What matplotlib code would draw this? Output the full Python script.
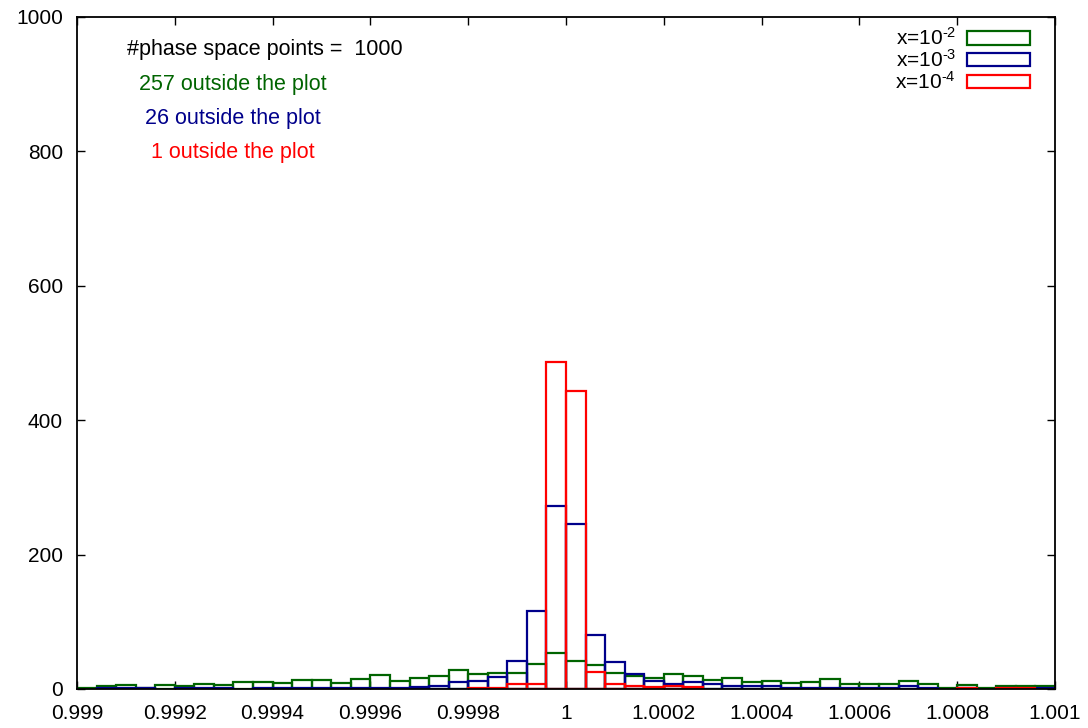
import numpy as np
import matplotlib
matplotlib.use("Agg")
import matplotlib.pyplot as plt
from matplotlib.patches import Patch

# ---- data ----
x_min, x_max, n_bins = 0.999, 1.001, 50
green_counts = [2, 4, 6, 2, 6, 5, 8, 6, 11, 11,
                9, 13, 13, 9, 15, 21, 12, 17, 20, 29,
                23, 24, 24, 37, 53, 41, 35, 24, 19, 16,
                23, 19, 13, 16, 10, 12, 9, 10, 15, 7,
                7, 8, 12, 8, 1, 6, 1, 4, 5, 5]
blue_counts = [0, 1, 2, 1, 0, 1, 2, 2, 0, 1,
               1, 2, 1, 1, 1, 2, 1, 3, 5, 10,
               12, 18, 42, 116, 273, 246, 81, 40, 22, 12,
               8, 10, 8, 5, 5, 4, 1, 2, 2, 1,
               1, 2, 5, 1, 0, 1, 0, 1, 0, 1]
red_counts = [0, 0, 0, 0, 0, 0, 0, 0, 0, 0,
              0, 0, 0, 0, 0, 0, 0, 0, 0, 0,
              1, 1, 7, 7, 486, 443, 26, 8, 5, 3,
              4, 3, 0, 0, 0, 0, 0, 0, 0, 0,
              0, 0, 0, 0, 0, 1, 0, 2, 2, 0]
series_labels = [r"x=10$^{\text{-2}}$", r"x=10$^{\text{-3}}$", r"x=10$^{\text{-4}}$"]
series_colors = ["#006400", "#00008B", "#FF0000"]
outside_counts = [257, 26, 1]
total_points = 1000
x_ticks = [0.999, 0.9992, 0.9994, 0.9996, 0.9998, 1.0, 1.0002, 1.0004, 1.0006, 1.0008, 1.001]
x_ticklabels = ["0.999", "0.9992", "0.9994", "0.9996", "0.9998", "1", "1.0002", "1.0004", "1.0006", "1.0008", "1.001"]
y_ticks = [0, 200, 400, 600, 800, 1000]

plt.rcParams['font.family'] = ['Liberation Sans', 'DejaVu Sans']
plt.rcParams['mathtext.fontset'] = 'custom'
plt.rcParams['mathtext.rm'] = 'Liberation Sans'
plt.rcParams['mathtext.it'] = 'Liberation Sans'
plt.rcParams['mathtext.bf'] = 'Liberation Sans'

FS = 15
FS_NOTE = 15.5

fig = plt.figure(figsize=(10.88, 7.28), dpi=100)
ax = fig.add_axes([77/1088, 1-689/728, (1055-77)/1088, (689-17)/728])

edges = np.linspace(x_min, x_max, n_bins + 1)
width = edges[1] - edges[0]
for counts, col in zip([green_counts, blue_counts, red_counts], series_colors):
    c = np.array(counts)
    m = c > 0
    ax.bar(edges[:-1][m], c[m], width=width, align='edge', fill=False,
           edgecolor=col, linewidth=1.6, zorder=2)

ax.set_xlim(x_min, x_max)
ax.set_ylim(0, 1000)
ax.set_xticks(x_ticks)
ax.set_xticklabels(x_ticklabels)
ax.set_yticks(y_ticks)
ax.tick_params(direction='in', length=6, width=1, top=True, right=True,
               labelsize=FS, colors='black')
ax.tick_params(axis='x', pad=11)
ax.tick_params(axis='y', pad=10)
for s in ax.spines.values():
    s.set_linewidth(1.3)
    s.set_zorder(5)

ax.text(0.1922, 0.951, f"#phase space points =  {total_points}", transform=ax.transAxes,
        ha='center', va='center', fontsize=FS_NOTE, color='black')
for i, (n, col) in enumerate(zip(outside_counts, series_colors)):
    ax.text(0.1595, 0.899 - 0.0502 * i, f"{n} outside the plot", transform=ax.transAxes,
            ha='center', va='center', fontsize=FS_NOTE, color=col)

handles = [Patch(facecolor='none', edgecolor=c, linewidth=1.6) for c in series_colors]
leg = ax.legend(handles, series_labels, loc='upper right', bbox_to_anchor=(0.9744, 0.9846),
                frameon=False, markerfirst=False, fontsize=FS, handlelength=3.0,
                handleheight=0.6, labelspacing=0.0, handletextpad=0.55,
                borderaxespad=0, borderpad=0)

fig.savefig("out.png", dpi=100)
